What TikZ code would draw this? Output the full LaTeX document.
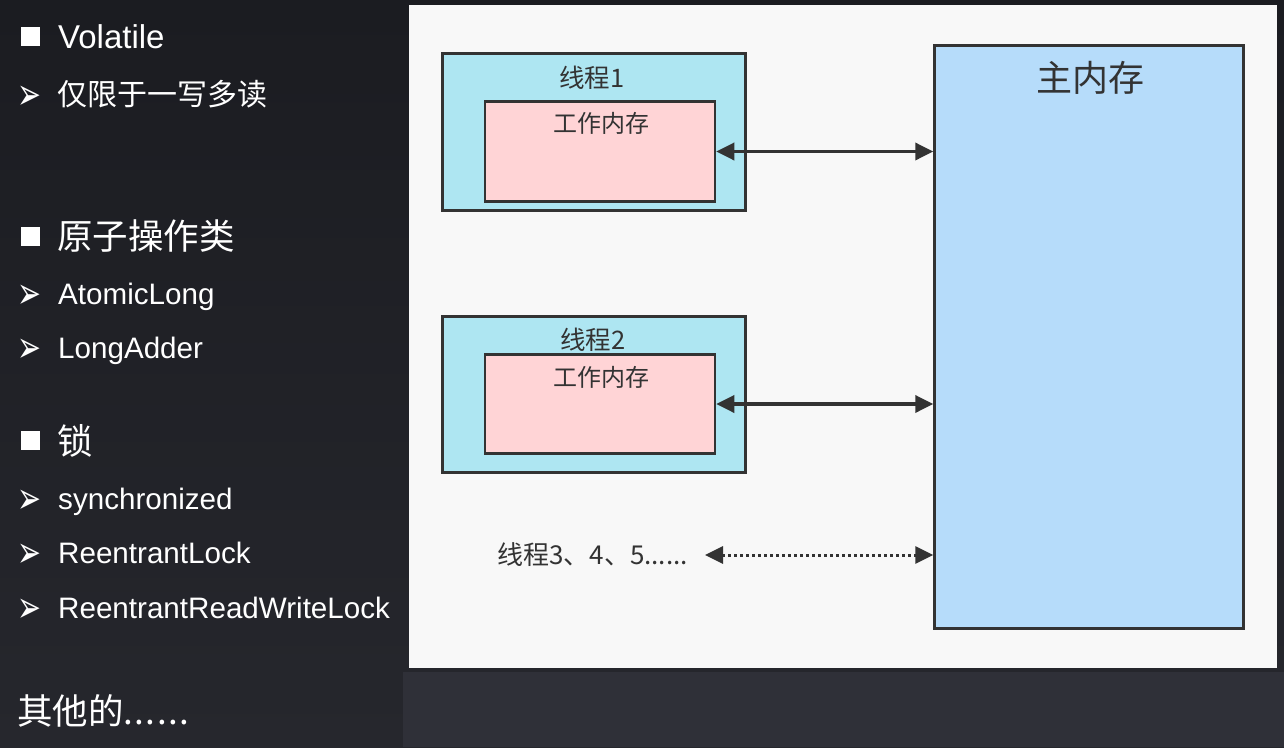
\documentclass[tikz,border=0pt]{standalone}
\usepackage{fontspec}
\setmainfont{Liberation Sans}
\newfontfamily\cjk{Noto Sans CJK SC}
\newfontfamily\dingfont{DejaVu Sans}
\usetikzlibrary{arrows.meta,positioning}
\definecolor{bgtop}{HTML}{1B1C21}
\definecolor{bgbot}{HTML}{26272D}
\definecolor{strip}{HTML}{2F3038}
\definecolor{panel}{HTML}{F8F8F8}
\definecolor{edge}{HTML}{333333}
\definecolor{thrcol}{HTML}{AEE6F2}
\definecolor{wrkcol}{HTML}{FFD4D6}
\definecolor{maincol}{HTML}{B6DCFA}
\newcommand{\arrowbullet}{\scalebox{1.3}[2.0]{➢}}

\begin{document}
\begin{tikzpicture}[x=1pt,y=-1pt,>={Triangle[length=18pt,width=17pt]},
 txt/.style={anchor=base west,inner sep=0pt,text=white,font=\fontsize{29.6}{30}\selectfont},
 cjktxt/.style={anchor=base west,inner sep=0pt,text=white,font=\cjk\fontsize{35.5}{36}\selectfont},
 sq/.style={fill=white,minimum size=19pt,inner sep=0pt},
 tri/.style={anchor=base west,inner sep=0pt,text=white,font=\dingfont\fontsize{22}{22}\selectfont},
 thr/.style={draw=edge,line width=2.5pt,fill=thrcol,minimum width=303pt,minimum height=157pt,inner sep=0pt},
 wrk/.style={draw=edge,line width=2.5pt,fill=wrkcol,minimum width=230pt,minimum height=100pt,inner sep=0pt},
 lbl/.style={text=edge,inner sep=0pt,font=\cjk\fontsize{24}{24}\selectfont},
 link/.style={<->,draw=edge,line width=3.5pt}]
\useasboundingbox (0,0) rectangle (1284,747);
\shade[top color=bgtop,bottom color=bgbot] (0,0) rectangle (1284,747);
\fill[strip] (403,672) rectangle (1284,747);
\fill[panel] (409,5) rectangle (1277,668);

\node[sq] (b1) at (30,36) {};
\node[txt,font=\fontsize{33}{33}\selectfont] (volatile) at (58,48) {Volatile};
\node[tri] (a1) at (17,109) {\arrowbullet};
\node[cjktxt,font=\cjk\fontsize{30}{30}\selectfont] (onewrite) at (57,105) {仅限于一写多读};
\node[sq] (b2) at (30,236) {};
\node[cjktxt] (atomic) at (57,249) {原子操作类};
\node[tri] (a2) at (17,308) {\arrowbullet};
\node[txt] (atomiclong) at (58,304) {AtomicLong};
\node[tri] (a3) at (17,362) {\arrowbullet};
\node[txt] (longadder) at (58,358) {LongAdder};
\node[sq] (b3) at (30,440) {};
\node[cjktxt] (lock) at (57,454) {锁};
\node[tri] (a4) at (17,513) {\arrowbullet};
\node[txt] (sync) at (58,509) {synchronized};
\node[tri] (a5) at (17,567) {\arrowbullet};
\node[txt] (rlock) at (58,563) {ReentrantLock};
\node[tri] (a6) at (17,622) {\arrowbullet};
\node[txt] (rwlock) at (58,618) {ReentrantReadWriteLock};
\node[cjktxt] (others) at (17,724) {其他的{\fontsize{35}{35}\selectfont\addfontfeature{LetterSpace=4}......}};

\node[draw=edge,line width=2.5pt,fill=maincol,minimum width=309pt,minimum height=583pt,inner sep=0pt] (mainmem) at (1089,337) {};
\node[lbl,font=\cjk\fontsize{36}{36}\selectfont] (mainlbl) at (1090,78) {主内存};

\node[thr] (thread1) at (594,132) {};
\node[wrk] (work1) at (600,151.5) {};
\node[lbl,font=\cjk\fontsize{25.5}{26}\selectfont] at (592,78) {线程1};
\node[lbl] at (601,123) {工作内存};

\node[thr,minimum height=156pt] (thread2) at (594,394.5) {};
\node[wrk,minimum height=99pt] (work2) at (600,404) {};
\node[lbl,font=\cjk\fontsize{25.5}{26}\selectfont] at (593,340) {线程2};
\node[lbl] at (601,377) {工作内存};

\node[lbl,anchor=west,font=\cjk\fontsize{26}{26}\selectfont] (rest) at (497,555) {线程3、4、5......};

\draw[link] (work1.east) -- (work1.east -| mainmem.west);
\draw[link] (work2.east) -- (work2.east -| mainmem.west);
\draw[link,dash pattern=on 3pt off 3pt,line width=3pt] ([xshift=17pt]rest.east) -- (rest.east -| mainmem.west);
\end{tikzpicture}
\end{document}
